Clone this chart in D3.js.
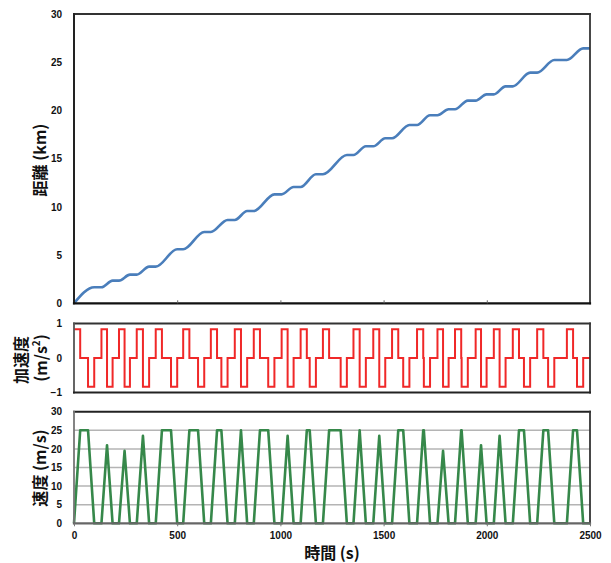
<!DOCTYPE html>
<html><head><meta charset="utf-8">
<script src="https://cdn.jsdelivr.net/npm/d3@7"></script>
<style>body{margin:0;background:#fff} svg{display:block}</style>
</head><body><svg id="c" width="611" height="563"></svg>
<script>
// ---- data ----
// one entry per trip between stations (times in s, speed in m/s)
const tripStart       = [0, 133, 218, 304, 396, 529, 663, 779, 871, 1006, 1098, 1206, 1354, 1450, 1541, 1662, 1761, 1846, 1946, 2034, 2126, 2244, 2388];
const tripPeakReached = [30, 160, 245, 334, 426, 559, 693, 809, 901, 1035, 1128, 1236, 1384, 1479, 1571, 1692, 1788, 1876, 1972, 2062, 2156, 2274, 2418];
const tripDecelStart  = [68, 160, 245, 334, 470, 601, 714, 809, 941, 1035, 1142, 1292, 1384, 1479, 1595, 1695, 1788, 1878, 1972, 2062, 2180, 2297, 2437];
const tripStop        = [98, 187, 271, 364, 500, 631, 744, 839, 971, 1064, 1172, 1322, 1414, 1508, 1625, 1725, 1815, 1908, 1999, 2091, 2210, 2327, 2467];
const tripPeakSpeed   = [25, 21, 19.5, 23.5, 25, 25, 25, 25, 25, 23.5, 25, 25, 25, 23.5, 25, 25, 19.5, 25, 21, 23.5, 25, 25, 25];
// cumulative distance at each stop (km)
const stopDistanceKm  = [1.66, 2.35, 2.97, 3.80, 5.60, 7.40, 8.64, 9.57, 11.30, 12.06, 13.38, 15.38, 16.28, 17.11, 18.49, 19.50, 20.12, 21.02, 21.67, 22.50, 23.92, 25.23, 26.44];
const accelLevel = 0.83;   // m/s^2
const endTime = 2500;
const timeTicks  = [0, 500, 1000, 1500, 2000, 2500];
const distTicks  = [0, 5, 10, 15, 20, 25, 30];
const accTicks   = [-1, 0, 1];
const speedTicks = [0, 5, 10, 15, 20, 25, 30];

// ---- build point lists from the arrays ----
const speedPts = [], accPts = [], distPts = [[0, 0]];
tripStart.forEach((s, i) => {
  speedPts.push([s, 0], [tripPeakReached[i], tripPeakSpeed[i]], [tripDecelStart[i], tripPeakSpeed[i]], [tripStop[i], 0]);
  accPts.push([s, accelLevel], [tripPeakReached[i], 0], [tripDecelStart[i], -accelLevel], [tripStop[i], 0]);
  const prev = i === 0 ? 0 : stopDistanceKm[i - 1];
  if (s > distPts[distPts.length - 1][0]) distPts.push([s, prev]);
  distPts.push([tripStop[i], stopDistanceKm[i]]);
});
speedPts.push([endTime, 0]);
accPts.push([endTime, 0]);
distPts.push([endTime, stopDistanceKm[stopDistanceKm.length - 1]]);

// ---- layout ----
const svg = d3.select('#c');
const X0 = 74, X1 = 590;
const x = d3.scaleLinear([0, 2500], [X0, X1]);
const P1 = {top: 14, bottom: 303.3};
const P2 = {top: 323.5, bottom: 392.5};
const P3 = {top: 411.7, bottom: 523.3};
const yDist = d3.scaleLinear([0, 30], [P1.bottom, P1.top]);
const yAcc  = d3.scaleLinear([-1, 1], [P2.bottom, P2.top]);
const ySpd  = d3.scaleLinear([0, 30], [P3.bottom, P3.top]);

const tickFont = 'bold 10px "Liberation Sans", Arial, sans-serif';
const titleFont = '"Noto Sans CJK JP", "Noto Sans CJK SC", sans-serif';

function yAxis(scale, ticks) {
  const g = svg.append('g').attr('transform', `translate(${X0},0)`)
    .call(d3.axisLeft(scale).tickValues(ticks).tickSize(0).tickPadding(12).tickFormat(d3.format('d')));
  g.select('.domain').remove();
  g.selectAll('text').style('font', tickFont).attr('fill', '#111');
  return g;
}

// ---- panel 3 gridlines (behind) ----
svg.append('g').selectAll('line').data([5, 10, 15, 20, 25]).join('line')
  .attr('x1', X0).attr('x2', X1).attr('y1', d => ySpd(d)).attr('y2', d => ySpd(d))
  .attr('stroke', '#b4b4b4').attr('stroke-width', 1.5);

// ---- lines ----
svg.append('path').datum(distPts)
  .attr('d', d3.line().x(d => x(d[0])).y(d => yDist(d[1])).curve(d3.curveMonotoneX))
  .attr('fill', 'none').attr('stroke', '#4a7ebb').attr('stroke-width', 2.6);

svg.append('path').datum(accPts)
  .attr('d', d3.line().x(d => x(d[0])).y(d => yAcc(d[1])).curve(d3.curveStepAfter))
  .attr('fill', 'none').attr('stroke', '#f02828').attr('stroke-width', 2);

svg.append('path').datum(speedPts)
  .attr('d', d3.line().x(d => x(d[0])).y(d => ySpd(d[1])))
  .attr('fill', 'none').attr('stroke', '#36884a').attr('stroke-width', 2.6)
  .attr('stroke-linejoin', 'round');

// ---- frames ----
function frame(p, sides) {
  sides.forEach(([x1, y1, x2, y2, c, w]) => svg.append('line')
    .attr('x1', x1).attr('y1', y1).attr('x2', x2).attr('y2', y2)
    .attr('stroke', c).attr('stroke-width', w).attr('stroke-linecap', 'square'));
}
// panel 1
frame(P1, [
  [X0, P1.top, X1, P1.top, '#333', 1.8],
  [X1, P1.top, X1, P1.bottom, '#333', 1.8],
  [X0, P1.top, X0, P1.bottom, '#222', 2],
  [X0, P1.bottom, X1, P1.bottom, '#111', 2.2]
]);
// small inward ticks on panel 1 x axis
svg.append('g').attr('transform', `translate(0,${P1.bottom})`)
  .call(d3.axisTop(x).tickValues([500, 1000, 1500, 2000]).tickSize(3).tickFormat(''))
  .call(g => g.select('.domain').remove())
  .selectAll('line').attr('stroke', '#666');
// panel 2
frame(P2, [
  [X0, P2.top, X1, P2.top, '#333', 1.8],
  [X1, P2.top, X1, P2.bottom, '#333', 1.8],
  [X0, P2.top, X0, P2.bottom, '#555', 1.8],
  [X0, P2.bottom, X1, P2.bottom, '#222', 2]
]);
// panel 3
frame(P3, [
  [X0, P3.top, X1, P3.top, '#222', 2],
  [X1, P3.top, X1, P3.bottom, '#333', 1.8],
  [X0, P3.top, X0, P3.bottom, '#777', 1.8],
  [X0, P3.bottom, X1, P3.bottom, '#666', 2.2]
]);

// ---- axes ----
yAxis(yDist, distTicks);
yAxis(yAcc, accTicks);
yAxis(ySpd, speedTicks);

const xa = svg.append('g').attr('transform', `translate(0,${P3.bottom})`)
  .call(d3.axisBottom(x).tickValues(timeTicks).tickSize(3).tickPadding(6).tickFormat(d3.format('d')));
xa.select('.domain').remove();
xa.selectAll('line').attr('stroke', '#777');
xa.selectAll('text').style('font', tickFont).attr('fill', '#111');

// ---- titles ----
function vTitle(cx, cy, text) {
  return svg.append('text').attr('transform', `translate(${cx},${cy}) rotate(-90)`)
    .attr('text-anchor', 'middle').attr('dominant-baseline', 'central')
    .style('font-family', titleFont).style('font-size', '16px').style('font-weight', 700)
    .attr('fill', '#111').text(text);
}
vTitle(39, 160, '距離 (km)');
vTitle(39, 468, '速度 (m/s)');
vTitle(20, 360, '加速度');
const t2 = svg.append('text').attr('transform', `translate(40,358) rotate(-90)`)
  .attr('text-anchor', 'middle').attr('dominant-baseline', 'central')
  .style('font-family', titleFont).style('font-size', '16px').style('font-weight', 700)
  .attr('fill', '#111');
t2.append('tspan').text('(m/s');
t2.append('tspan').attr('dy', -5).style('font-size', '10px').text('2');
t2.append('tspan').attr('dy', 5).text(')');

svg.append('text').attr('x', 332).attr('y', 552)
  .attr('text-anchor', 'middle').attr('dominant-baseline', 'central')
  .style('font-family', titleFont).style('font-size', '16px').style('font-weight', 700)
  .attr('fill', '#111').text('時間 (s)');
</script></body></html>
